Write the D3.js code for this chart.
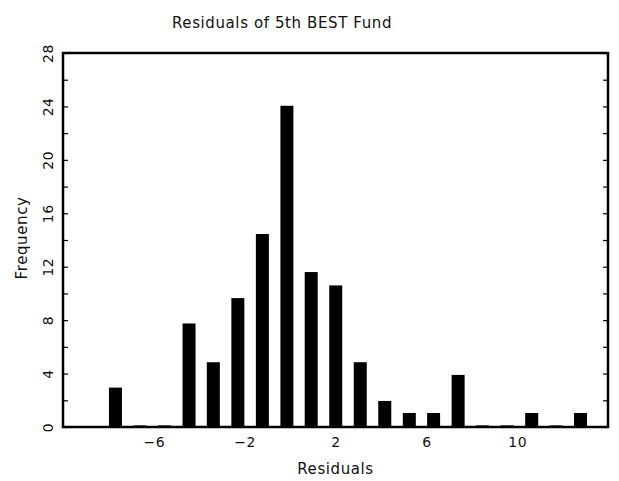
<!DOCTYPE html>
<html lang="en">
<head>
<meta charset="UTF-8">
<script src="https://d3js.org/d3.v7.min.js"></script>
<title>Residuals of 5th BEST Fund</title>
<style>
  body { margin: 0; background: #fff; }
  text { font-family: "DejaVu Sans", sans-serif; fill: #111; }
  .title, .label { font-size: 15px; letter-spacing: 0.6px; }
  .tick text { font-size: 14px; letter-spacing: 0.5px; }
</style>
</head>
<body>
<div class="chart"></div>
<script>
  // bin centres (residual) and bar heights
  const binCenters = [-7.69, -6.61, -5.53, -4.45, -3.38, -2.30, -1.22, -0.14, 0.93, 2.01,
                      3.09, 4.17, 5.25, 6.32, 7.40, 8.48, 9.56, 10.64, 11.71, 12.79];
  const frequencies = [2.95, 0.12, 0.12, 7.75, 4.85, 9.65, 14.45, 24.05, 11.6, 10.6,
                       4.85, 1.95, 1.05, 1.05, 3.9, 0.12, 0.12, 1.05, 0.12, 1.05];
  const xTicks = [-6, -2, 2, 6, 10];
  const yTicks = [0, 2, 4, 6, 8, 10, 12, 14, 16, 18, 20, 22, 24, 26, 28];

  const W = 619, H = 481;
  const margin = { top: 53, right: 11, bottom: 54, left: 63 };
  const width = W - margin.left - margin.right;
  const height = H - margin.top - margin.bottom;

  const svg = d3.select(".chart").append("svg")
    .attr("width", W).attr("height", H);

  const g = svg.append("g")
    .attr("transform", "translate(" + margin.left + "," + margin.top + ")");

  const x = d3.scaleLinear().domain([-10, 14]).range([0, width]);
  const y = d3.scaleLinear().domain([0, 28]).range([height, 0]);

  const step = x(binCenters[1]) - x(binCenters[0]);
  const barW = step * 0.53;

  // bars
  g.selectAll(".bar")
    .data(binCenters)
    .enter().append("rect")
    .attr("class", "bar")
    .attr("x", (d) => x(d) - barW / 2)
    .attr("y", (d, i) => y(frequencies[i]))
    .attr("width", barW)
    .attr("height", (d, i) => y(0) - y(frequencies[i]) - 1)
    .attr("fill", "#000");

  // left axis, ticks pointing inside
  const yAxis = g.append("g")
    .call(d3.axisLeft(y).tickValues(yTicks).tickSize(-5)
      .tickFormat((d) => (d % 4 === 0 ? d : "")));
  yAxis.select(".domain").remove();
  yAxis.selectAll(".tick line").attr("stroke-width", 1.2);
  yAxis.selectAll(".tick text")
    .attr("x", 0).attr("dy", "0.35em")
    .attr("text-anchor", "middle")
    .attr("transform", "translate(-15,0) rotate(-90)");

  // right axis, ticks only
  const yAxisR = g.append("g")
    .attr("transform", "translate(" + width + ",0)")
    .call(d3.axisRight(y).tickValues(yTicks).tickSize(-5).tickFormat(""));
  yAxisR.select(".domain").remove();
  yAxisR.selectAll(".tick line").attr("stroke-width", 1.2);

  // bottom axis labels only
  const xAxis = g.append("g")
    .attr("transform", "translate(0," + height + ")")
    .call(d3.axisBottom(x).tickValues(xTicks).tickSize(0).tickPadding(10)
      .tickFormat((d) => (d < 0 ? "\u2212" + Math.abs(d) : d)));
  xAxis.select(".domain").remove();

  // frame
  g.append("rect")
    .attr("x", 0).attr("y", 0)
    .attr("width", width).attr("height", height)
    .attr("fill", "none")
    .attr("stroke", "#000")
    .attr("stroke-width", 2.5);

  svg.append("text")
    .attr("class", "title")
    .attr("x", 282).attr("y", 28)
    .attr("text-anchor", "middle")
    .text("Residuals of 5th BEST Fund");

  svg.append("text")
    .attr("class", "label")
    .attr("x", margin.left + width / 2).attr("y", 474)
    .attr("text-anchor", "middle")
    .text("Residuals");

  svg.append("text")
    .attr("class", "label")
    .attr("transform", "translate(27,238) rotate(-90)")
    .attr("text-anchor", "middle")
    .text("Frequency");
</script>
</body>
</html>
